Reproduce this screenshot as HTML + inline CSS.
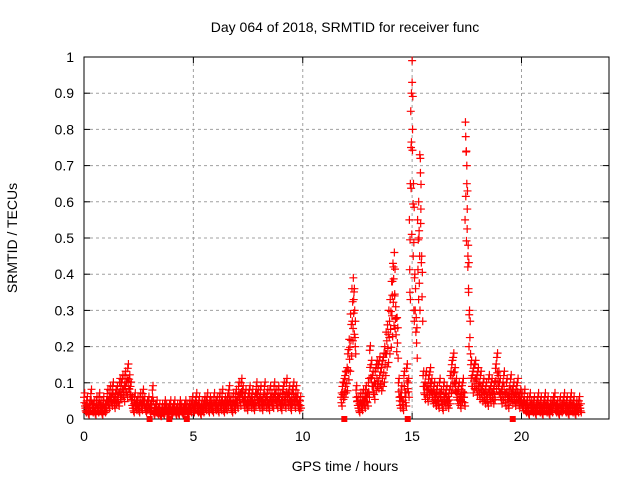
<!DOCTYPE html>
<html><head><meta charset="utf-8"><style>
body{margin:0;background:#fff;}
svg{display:block;font-family:"Liberation Sans",sans-serif;}
</style></head><body>
<svg id="chart" width="640" height="480">
<text x="345" y="32" text-anchor="middle" font-size="14">Day 064 of 2018, SRMTID for receiver func</text>
<text x="345" y="471" text-anchor="middle" font-size="14">GPS time / hours</text>
<text transform="translate(17,238) rotate(-90)" text-anchor="middle" font-size="14">SRMTID / TECUs</text>
<g id="grid"></g><g id="axes"></g><g id="marks"></g>
</svg>
<script>
const xTicks=[0,5,10,15,20];
const yTicks=[0,0.1,0.2,0.3,0.4,0.5,0.6,0.7,0.8,0.9,1];
const yTickLabels=["0","0.1","0.2","0.3","0.4","0.5","0.6","0.7","0.8","0.9","1"];
const blockHours=[0,1,2,3,4,5,6,7,8,9,11,12,13,14,15,16,17,18,19,20,21,22];
const N=null;
const tecByHour=[
[.06,.03,.05,.02,.04,.07,.03,.04,.02,.05,.03,.06,.04,.02,.05,.03],
[.04,.07,.05,.08,.06,.09,.05,.07,.08,.06,.10,.09,.11,.08,.12,.10],
[.14,.11,.09,.05,.03,.06,.04,.05,.03,.06,.04,.07,.05,.03,.04,.05],
[.03,.04,.08,.02,.03,.04,.02,.03,.01,.03,.02,.04,.03,.02,.03,.04],
[.02,.03,.04,.02,.03,.02,.04,.03,.02,.03,.04,.03,.02,.04,.03,.05],
[.03,.04,.06,.03,.05,.02,.04,.03,.05,.04,.06,.03,.05,.04,.03,.06],
[.04,.05,.03,.06,.04,.07,.03,.05,.04,.06,.08,.05,.03,.06,.04,.07],
[.05,.09,.06,.10,.08,.05,.07,.04,.06,.08,.05,.07,.04,.06,.09,.07],
[.05,.08,.04,.06,.09,.05,.07,.04,.08,.06,.05,.09,.07,.05,.08,.06],
[.04,.07,.09,.05,.10,.06,.08,.04,.07,.09,.05,.08,.06,.04,.05,N],
[N,N,N,N,N,N,N,N,N,N,N,N,.06,.09,.10,.12],
[.13,.18,.22,.29,.36,.39,.30,.08,.05,.03,.06,.04,.07,.05,.08,.06],
[.10,.19,.15,.12,.09,.13,.15,.14,.16,.13,.15,.17,.20,.24,.26,.30],
[.33,.38,.43,.46,.31,.28,.10,.05,.08,.04,.12,.06,.14,.10,.55,.85],
[.99,.65,.40,.28,.55,.50,.72,.45,.12,.09,.12,.08,.11,.13,.10,.07],
[.09,.06,.08,.05,.10,.07,.04,.09,.06,.08,.05,.07,.12,.15,.17,.13],
[.10,.07,.09,.05,.08,.10,.06,.82,.70,.48,.30,.15,.12,.14,.15,.11],
[.13,.09,.12,.08,.10,.07,.09,.06,.11,.08,.10,.07,.09,.14,.17,.12],
[.10,.07,.09,.12,.06,.10,.05,.08,.11,.07,.09,.06,.08,.10,.05,.07],
[.06,.04,.07,.03,.05,.02,.06,.04,.03,.05,.02,.04,.06,.03,.05,.02],
[.04,.06,.03,.05,.02,.04,.03,.05,.06,.03,.04,.02,.05,.03,.04,.06],
[.03,.05,.02,.04,.06,.03,.05,.02,.04,.03,.05,.03,N,N,N,N]];
const spikeT=[12.3,12.33,12.36,12.4,14.1,14.15,14.2,14.22,14.9,14.92,14.95,14.97,15.0,15.02,15.05,15.08,15.1,15.3,15.32,15.35,15.38,15.4,17.42,17.45,17.48,17.5,17.52,17.55,17.58,17.6];
const spikeV=[.25,.33,.36,.2,.38,.42,.34,.25,.35,.65,.75,.90,.93,.80,.45,.30,.27,.60,.52,.73,.68,.58,.55,.78,.74,.65,.58,.45,.35,.2];
const gapHours=[3.0,3.9,4.7,11.9,14.8,19.6];

const L=84,R=609,T=57,B=419,XMAX=24;
const sx=h=>L+h/XMAX*(R-L);
const sy=v=>B-v*(B-T);
const NS="http://www.w3.org/2000/svg";
function mk(tag,attrs,parent){const e=document.createElementNS(NS,tag);for(const k in attrs)e.setAttribute(k,attrs[k]);parent.appendChild(e);return e;}
const grid=document.getElementById('grid'),axes=document.getElementById('axes'),marks=document.getElementById('marks');
xTicks.forEach(t=>{const x=sx(t);
 if(t>0){const g=mk('line',{x1:x,x2:x,y1:T,y2:B,stroke:'#a0a0a0','stroke-dasharray':'3,3'},grid);
 
 }
 mk('line',{x1:x,x2:x,y1:B,y2:B-6,stroke:'#000'},axes);
 mk('line',{x1:x,x2:x,y1:T,y2:T+6,stroke:'#000'},axes);
 const tx=mk('text',{x:x,y:B+22,'text-anchor':'middle','font-size':14},axes);tx.textContent=t;
 
 
});
yTicks.forEach((t,i)=>{const y=sy(t);
 if(t>0&&t<1){const g=mk('line',{x1:L,x2:R,y1:y,y2:y,stroke:'#a0a0a0','stroke-dasharray':'3,3'},grid);
 
 }
 mk('line',{x1:L,x2:L+6,y1:y,y2:y,stroke:'#000'},axes);
 mk('line',{x1:R,x2:R-6,y1:y,y2:y,stroke:'#000'},axes);
 const tx=mk('text',{x:L-10,y:y+5,'text-anchor':'end','font-size':14},axes);tx.textContent=yTickLabels[i];
 
 
});
const frame=mk('rect',{x:L,y:T,width:R-L,height:B-T,fill:'none',stroke:'#000'},axes);


function plus(h,v){const x=sx(h),y=sy(v);
 const p=mk('path',{d:`M${x-4},${y}h8M${x},${y-4}v8`,stroke:'#ff0000','stroke-width':1.2},marks);
 
 }
blockHours.forEach((h,bi)=>{tecByHour[bi].forEach((v,i)=>{if(v!==null){
 const t=h+i/16;
 plus(t,v);
 plus(t+0.016,Math.max(0.008,v*0.75));
 plus(t+0.031,v<0.2?v+0.012:v*0.9);
 plus(t+0.047,Math.max(0.008,v*0.6));}});});
spikeT.forEach((h,i)=>plus(h,spikeV[i]));
gapHours.forEach(h=>{const r=mk('rect',{x:sx(h)-3,y:B-3,width:6,height:6,fill:'#ff0000'},marks);
 
 });
</script>
</body></html>
